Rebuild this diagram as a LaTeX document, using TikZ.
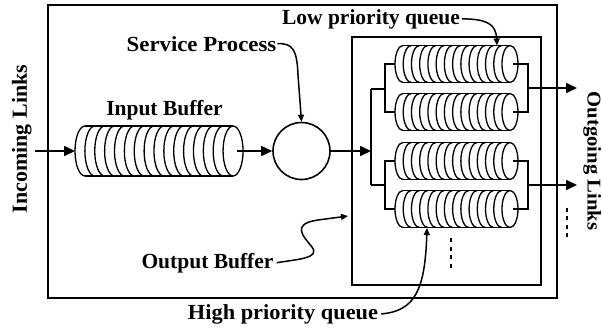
\documentclass[tikz,border=0pt]{standalone}
\usepackage{fontspec}
\setmainfont{Liberation Serif}
\usetikzlibrary{arrows.meta,calc}
\tikzset{
  lbl/.style={font=\fontsize{21.5}{25}\selectfont\bfseries, inner sep=0pt},
  frame/.style={draw, line width=1.6pt, inner sep=0pt},
  cylline/.style={line width=1.3pt},
  holder/.style={inner sep=0pt, outer sep=0pt},
  conn/.style={line width=1.6pt},
  arr/.style={line width=1.6pt, -{Triangle[length=11pt,width=10pt]}},
  carr/.style={line width=1.5pt, -{Triangle[length=7pt,width=6pt]}},
  qdot/.style={fill=black, minimum width=2.6pt, minimum height=4pt, inner sep=0pt}
}
% #1 left x, #2 centre y, #3 number of arcs, #4 spacing, #5 rx, #6 ry
\newcommand\drawcyl[6]{%
  \pgfmathsetmacro\cylxe{#1+#5+#3*#4}%
  \draw[cylline] (#1+#5,#2-#6) -- (\cylxe,#2-#6) (#1+#5,#2+#6) -- (\cylxe,#2+#6);
  \foreach \i in {1,...,#3}{%
    \draw[cylline] ({#1+#5+(\i-1)*#4},#2-#6) arc[start angle=90,end angle=270,x radius=#5pt,y radius=#6pt];
  }%
  \draw[cylline] (\cylxe,#2) ellipse[x radius=#5pt,y radius=#6pt];
}
\begin{document}
\begin{tikzpicture}[x=1pt,y=-1pt]
\useasboundingbox (0,0) rectangle (602,330);
% frames
\node[frame, minimum width=509pt, minimum height=293pt] (outer) at (302.5,151.5) {};
\node[frame, minimum width=189pt, minimum height=248pt] (inner) at (446.5,161) {};
% input buffer
\node[holder, minimum width=168pt, minimum height=50pt] (ib) at (159,151) {};
\drawcyl{75}{151}{15}{9.87}{10}{25}
\coordinate (ibout) at (237,151);
% service process
\node[circle, draw, line width=1.6pt, minimum size=57pt, inner sep=0pt] (sp) at (301.5,151) {};
% queues
\foreach \n/\y in {q1/64,q2/112,q3/161,q4/209}{
  \node[holder, minimum width=123pt, minimum height=37pt] (\n) at (456.5,\y) {};
  \drawcyl{395}{\y}{13}{8.23}{8}{18.5}
  \coordinate (\n out) at (513,\y);
}
% labels
\node[lbl, rotate=90, anchor=base] (inl) at (27,139) {\scalebox{1.02}[1]{Incoming Links}};
\node[lbl, font=\fontsize{19.5}{23}\selectfont\bfseries, rotate=-90, anchor=base] (outl) at (587.5,161) {\scalebox{1.06}[1]{Outgoing Links}};
\node[lbl, anchor=base] (ibl) at (164.5,115) {Input Buffer};
\node[lbl, anchor=base] (spl) at (201.5,51) {\scalebox{1.06}[1]{Service Process}};
\node[lbl, anchor=base] (obl) at (207.5,268) {Output Buffer};
\node[lbl, anchor=base] (lpl) at (371,24) {Low priority queue};
\node[lbl, anchor=base] (hpl) at (283,319) {\scalebox{1.04}[1]{High priority queue}};
% connectors
\coordinate (inlink) at (35,151);
\draw[arr] (inlink) -- (ib.west);
\draw[arr] (ibout) -- (sp.west);
\coordinate (split) at (371,151);
\coordinate (t1) at (371,89);
\coordinate (t2) at (371,185);
\coordinate (b1) at (385,89);
\coordinate (b2) at (385,185);
\draw[arr] (sp.east) -- (split);
\draw[conn] (t1) -- (t2);
\draw[conn] (t1) -- (b1);
\draw[conn] (t2) -- (b2);
\draw[conn] (q1.west) -| (b1) |- (q2.west);
\draw[conn] (q3.west) -| (b2) |- (q4.west);
\coordinate (r1) at (528,88);
\coordinate (r2) at (528,185);
\coordinate (o1) at (577,88);
\coordinate (o2) at (577,185);
\draw[conn] (q1out) -| (r1) |- (q2out);
\draw[conn] (q3out) -| (r2) |- (q4out);
\draw[arr] (r1) -- (o1);
\draw[arr] (r2) -- (o2);
% annotation arrows
\draw[carr] ([xshift=1pt]spl.east) .. controls (293,43) and (297,50) .. (298,75) -- (sp.north);
\coordinate (lpt) at (497,45.5);
\draw[carr] ([xshift=2pt]lpl.east) .. controls (487,19) and (496,24) .. (lpt);
\coordinate (obt) at (348,216);
\draw[carr] ([xshift=3pt]obl.east) .. controls (300,259) and (320,258) .. (312,247)
  .. controls (304,237) and (290,224) .. (318,220) -- (obt);
\coordinate (hpt) at (427,228);
\draw[carr] ([xshift=3pt]hpl.east) .. controls (415,311) and (425,290) .. (hpt);
% dots
\foreach \y in {240,248.5,257,265.5}{ \node[qdot] at (451,\y) {}; }
\foreach \y in {209.5,218,226.5,235}{ \node[qdot] at (567,\y) {}; }
\end{tikzpicture}
\end{document}
